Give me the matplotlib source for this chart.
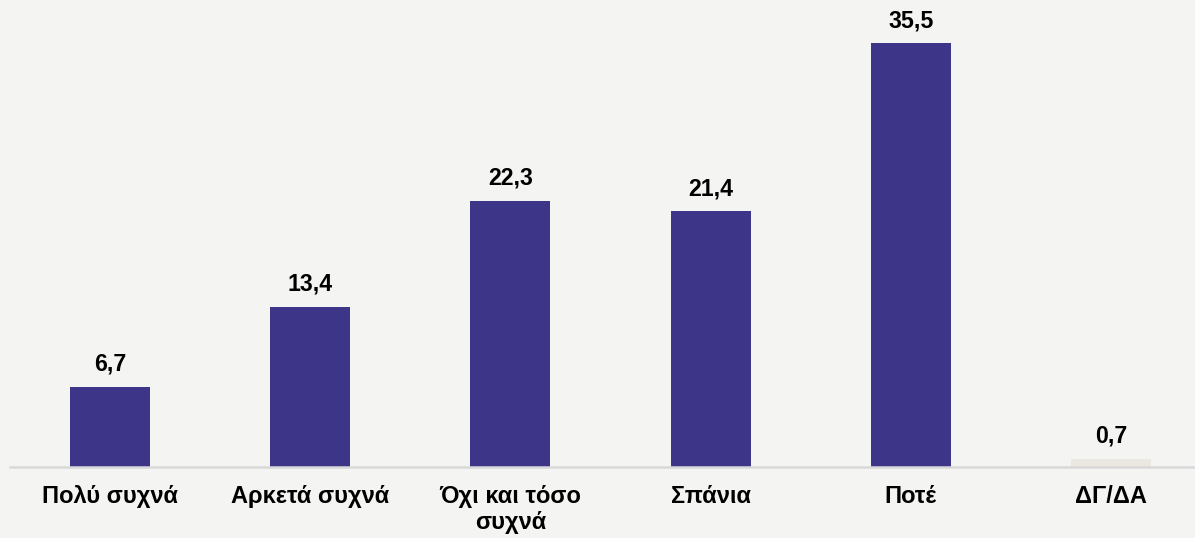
import matplotlib.pyplot as plt

plt.rcParams['font.family'] = ['Liberation Sans', 'DejaVu Sans']

categories = ['Πολύ συχνά', 'Αρκετά συχνά', 'Όχι και τόσο\nσυχνά', 'Σπάνια', 'Ποτέ', 'ΔΓ/ΔΑ']
values = [6.7, 13.4, 22.3, 21.4, 35.5, 0.7]
labels = ['6,7', '13,4', '22,3', '21,4', '35,5', '0,7']
colors = ['#3d3587'] * 5 + ['#ebe8e1']

bg = '#f4f4f2'
fig = plt.figure(figsize=(11.95, 5.38), dpi=100, facecolor=bg)
# axes runs a little past the right edge so bar spacing matches
ax = fig.add_axes([10 / 1195, 71 / 538, 1201 / 1195, 453.7 / 538])
ax.set_facecolor(bg)

x = range(len(categories))
ax.bar(x, values, width=0.4, color=colors, zorder=2)
for i, v in enumerate(values):
    ax.annotate(labels[i], (i, v), xytext=(0, 8), textcoords='offset points',
                ha='center', va='bottom', fontsize=16.7, fontweight='bold')

ax.set_xlim(-0.5, 5.5)
ax.set_ylim(0, 38)
ax.set_xticks(list(x))
ax.set_xticklabels(categories, fontsize=17, fontweight='bold', linespacing=1.15)
ax.tick_params(axis='x', length=0, pad=13)
ax.set_yticks([])
for s in ['top', 'right', 'left']:
    ax.spines[s].set_visible(False)
ax.spines['bottom'].set_color('#d9d9d9')
ax.spines['bottom'].set_linewidth(1.8)

fig.savefig('out.png', dpi=100, facecolor=bg)
